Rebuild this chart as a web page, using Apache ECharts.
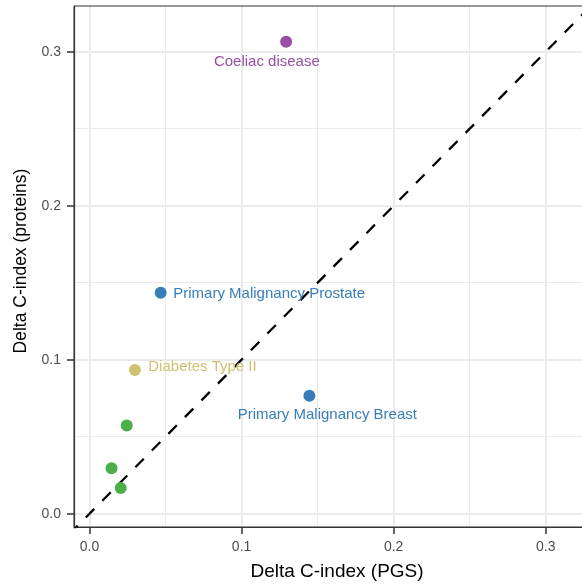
<!DOCTYPE html>
<html>
<head>
<meta charset="utf-8">
<style>
  html, body { margin: 0; padding: 0; background: #fff; overflow: hidden; }
  #chart { width: 582px; height: 587px; }
</style>
<script src="https://cdn.jsdelivr.net/npm/echarts@6/dist/echarts.min.js"></script>
</head>
<body>
<div id="chart"></div>
<script>
// ---- data ----
const diseases = ['Coeliac disease', 'Primary Malignancy Prostate', 'Diabetes Type II',
                  'Primary Malignancy Breast', '', '', ''];
const deltaPGS = [0.1293, 0.0468, 0.0299, 0.1446, 0.0245, 0.0145, 0.0205];
const deltaProteins = [0.3065, 0.1435, 0.0933, 0.0766, 0.0572, 0.0295, 0.0167];
const tickValues = [0, 0.1, 0.2, 0.3];
const minorValues = [0.05, 0.15, 0.25];
const identityEnds = [-0.0102, 0.4];

// ---- styles ----
const pointColors = ['#984EA3', '#377EB8', '#CFC171', '#377EB8', '#4DAF4A', '#4DAF4A', '#4DAF4A'];
const labelAlign = ['center', 'left', 'left', 'center', 'center', 'center', 'center'];
const labelOffset = [[-19.3, 20.5], [12.6, 1.5], [13.3, -3], [17.9, 19.5], [0, 0], [0, 0], [0, 0]];
const FONT = '"Liberation Sans", Arial, Helvetica, sans-serif';

const chart = echarts.init(document.getElementById('chart'), null, { renderer: 'canvas' });

const points = deltaPGS.map((x, i) => ({
  value: [x, deltaProteins[i]],
  name: diseases[i],
  itemStyle: { color: pointColors[i], opacity: 1 },
  label: {
    show: diseases[i] !== '',
    formatter: diseases[i],
    position: 'inside',
    align: labelAlign[i],
    verticalAlign: 'middle',
    offset: labelOffset[i],
    color: pointColors[i],
    fontSize: 15,
    fontFamily: FONT
  }
}));

const gridLineMarks = [];
minorValues.forEach(v => { gridLineMarks.push({ xAxis: v }); gridLineMarks.push({ yAxis: v }); });

const axisCommon = {
  type: 'value',
  nameLocation: 'middle',
  z: 1.5,
  axisLine: { show: true, onZero: false, lineStyle: { color: '#333', width: 1.2 } },
  axisTick: { show: true, customValues: tickValues, length: 7, lineStyle: { color: '#333', width: 1.5 } },
  axisLabel: {
    customValues: tickValues,
    margin: 13,
    color: '#4d4d4d',
    fontSize: 14,
    fontFamily: FONT,
    formatter: v => v.toFixed(1)
  },
  splitLine: { show: true, lineStyle: { color: '#ebebeb', width: 2 } },
  minorSplitLine: { show: false }
};

chart.setOption({
  animation: false,
  backgroundColor: '#fff',
  grid: {
    left: 74, top: 6, width: 526, height: 521,
    containLabel: false,
    outerBoundsMode: 'none',
    show: true, z: 4, borderColor: '#333', borderWidth: 1, backgroundColor: 'transparent'
  },
  xAxis: Object.assign({}, axisCommon, {
    name: 'Delta C-index (PGS)',
    nameGap: 35,
    nameTextStyle: { color: '#000', fontSize: 19, fontFamily: FONT },
    min: -0.0102, max: 0.3357
  }),
  yAxis: Object.assign({}, axisCommon, {
    name: 'Delta C-index (proteins)',
    nameGap: 42,
    nameTextStyle: { color: '#000', fontSize: 17.5, fontFamily: FONT, padding: [0, 0, 0, 11] },
    min: -0.00864, max: 0.3297
  }),
  series: [
    {
      type: 'line',
      data: identityEnds.map(v => [v, v]),
      showSymbol: false,
      symbol: 'none',
      silent: true,
      clip: true,
      z: 2,
      lineStyle: { color: '#000', width: 2.3, type: [12, 11.5], dashOffset: 6.7, cap: 'butt' },
      markLine: {
        silent: true,
        z: 1,
        symbol: ['none', 'none'],
        label: { show: false },
        lineStyle: { color: '#ebebeb', width: 1, type: 'solid' },
        emphasis: { disabled: true },
        animation: false,
        data: gridLineMarks
      }
    },
    {
      type: 'scatter',
      data: points,
      symbol: 'circle',
      symbolSize: 12,
      z: 3,
      silent: true
    }
  ]
});
</script>
</body>
</html>
